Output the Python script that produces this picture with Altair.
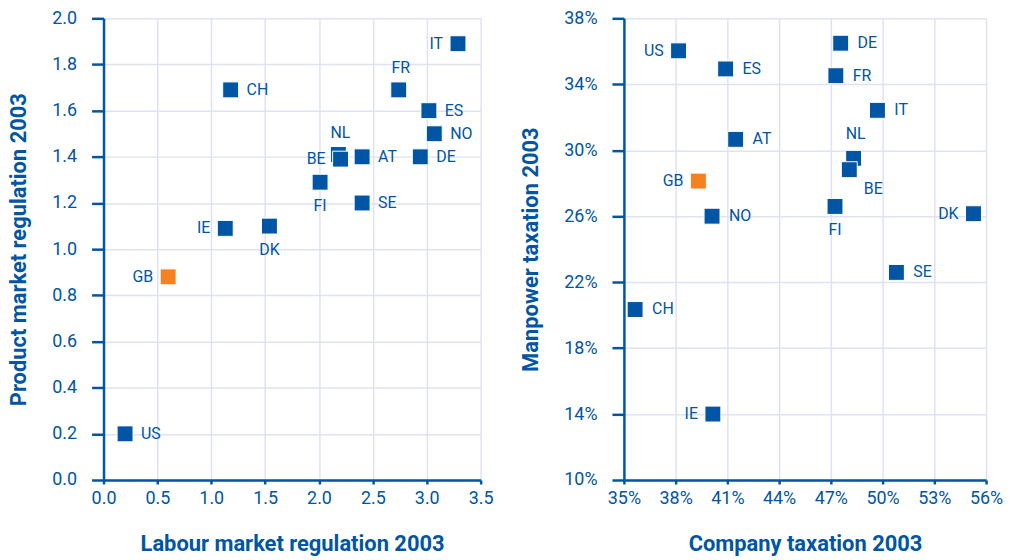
import altair as alt
import pandas as pd

BLUE = "#0055a4"
ORANGE = "#f58220"
GRID = "#dfe2f2"
FONT = "Roboto"
HIGHLIGHT = "GB"

# Left panel: labour vs product market regulation
countries_left = ["US", "GB", "IE", "DK", "CH", "FI", "NL", "BE", "AT", "SE", "DE", "FR", "ES", "NO", "IT"]
labour_reg = [0.20, 0.60, 1.13, 1.54, 1.18, 2.01, 2.18, 2.20, 2.40, 2.40, 2.94, 2.74, 3.02, 3.07, 3.29]
product_reg = [0.20, 0.88, 1.09, 1.10, 1.69, 1.29, 1.41, 1.39, 1.40, 1.20, 1.40, 1.69, 1.60, 1.50, 1.89]
label_pos_left = ["r", "l", "l", "b", "r", "b", "t", "l", "r", "r", "r", "t", "r", "r", "l"]

# Right panel: company vs manpower taxation (%)
countries_right = ["US", "GB", "IE", "DK", "CH", "FI", "NL", "BE", "AT", "SE", "DE", "FR", "ES", "NO", "IT"]
company_tax = [38.17, 39.32, 40.16, 55.27, 35.65, 47.24, 48.32, 48.07, 41.48, 50.80, 47.57, 47.29, 40.90, 40.11, 49.70]
manpower_tax = [36.03, 28.13, 14.00, 26.15, 20.34, 26.59, 29.51, 28.82, 30.66, 22.59, 36.49, 34.52, 34.93, 26.00, 32.42]
label_pos_right = ["l", "l", "l", "l", "r", "b", "t", "br", "r", "r", "r", "r", "r", "r", "r"]

x_ticks_left = [0.0, 0.5, 1.0, 1.5, 2.0, 2.5, 3.0, 3.5]
y_ticks_left = [0.0, 0.2, 0.4, 0.6, 0.8, 1.0, 1.2, 1.4, 1.6, 1.8, 2.0]
x_ticks_right = [35, 38, 41, 44, 47, 50, 53, 56]
y_ticks_right = [10, 14, 18, 22, 26, 30, 34, 38]

OFFSETS_LEFT = {
    "r": ("left", 16, 0),
    "l": ("right", -15, 0),
    "t": ("center", 2, -22),
    "b": ("center", 0, 24),
}
OFFSETS_RIGHT = {
    "r": ("left", 17, 0),
    "l": ("right", -15, 0),
    "t": ("center", 2, -24),
    "b": ("center", 0, 24),
    "br": ("center", 24, 19),
}


def panel(df, xtitle, ytitle, xdom, ydom, xticks, yticks, width, offsets, pct=False):
    xaxis = dict(values=xticks, title=xtitle, labelFlush=False)
    yaxis = dict(values=yticks, title=ytitle)
    if pct:
        xaxis["labelExpr"] = "datum.value + '%'"
        yaxis["labelExpr"] = "datum.value + '%'"
    else:
        xaxis["format"] = ".1f"
        yaxis["format"] = ".1f"
    base = alt.Chart(df).encode(
        x=alt.X("x:Q", scale=alt.Scale(domain=xdom, nice=False, zero=False), axis=alt.Axis(**xaxis)),
        y=alt.Y("y:Q", scale=alt.Scale(domain=ydom, nice=False, zero=False), axis=alt.Axis(**yaxis)),
    )
    pts = base.mark_square(size=256, opacity=1, filled=True, stroke="white", strokeWidth=1).encode(
        color=alt.condition(alt.datum.country == HIGHLIGHT, alt.value(ORANGE), alt.value(BLUE))
    )
    layers = [pts]
    for key, (align, dx, dy) in offsets.items():
        layers.append(
            base.transform_filter(alt.datum.pos == key)
            .mark_text(align=align, baseline="middle", dx=dx, dy=dy, fontSize=16, color=BLUE, font=FONT)
            .encode(text="country:N")
        )
    return alt.layer(*layers).properties(width=width, height=464)


df_left = pd.DataFrame({"country": countries_left, "x": labour_reg, "y": product_reg, "pos": label_pos_left})
df_right = pd.DataFrame({"country": countries_right, "x": company_tax, "y": manpower_tax, "pos": label_pos_right})

left = panel(df_left, "Labour market regulation 2003", "Product market regulation 2003",
             [0, 3.5], [0, 2], x_ticks_left, y_ticks_left, 379, OFFSETS_LEFT)
right = panel(df_right, "Company taxation 2003", "Manpower taxation 2003",
              [35, 56], [10, 38], x_ticks_right, y_ticks_right, 364, OFFSETS_RIGHT, pct=True)

chart = (
    alt.hconcat(left, right, spacing=26)
    .properties(padding={"left": 0, "top": 0, "right": 0, "bottom": 0})
    .configure_view(strokeWidth=0)
    .configure_axis(
        domainColor=BLUE, domainWidth=2.5, tickColor=BLUE, tickWidth=2.5,
        gridColor=GRID, gridWidth=1.5,
        labelColor=BLUE, labelFont=FONT, labelFontSize=18,
        titleColor=BLUE, titleFont=FONT, titleFontSize=22, titleFontWeight="bold",
        labelOverlap=False,
    )
    .configure_axisX(tickSize=4, labelPadding=6, titlePadding=26)
    .configure_axisY(tickSize=12, labelPadding=15, titlePadding=21)
)

chart.save("out.html", embed_options={"renderer": "svg", "actions": False})
